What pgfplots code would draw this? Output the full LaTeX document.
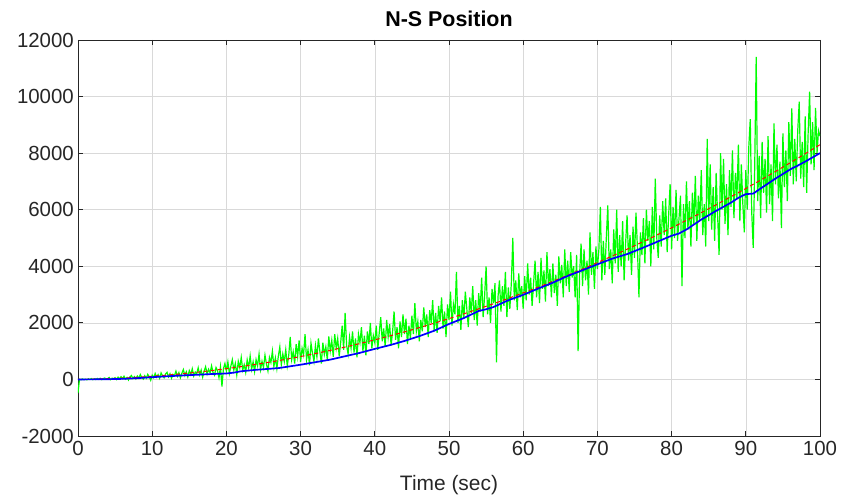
\documentclass[border=0pt]{standalone}
\usepackage{fontspec}
\setmainfont{Liberation Sans}
\usepackage{pgfplots}
\usepackage{pgfplotstable}
\pgfplotsset{compat=1.18}

\pgfplotstableread{
t y
0 -480
0.2 5
0.4 -12
0.6 18
0.8 -6
1 10
1.2 -15
1.4 22
1.6 0
1.8 30
2 -10
2.2 25
2.4 -5
2.6 35
2.8 2
3 40
3.2 -8
3.4 28
3.6 50
3.8 5
4 30
4.2 70
4.4 -10
4.6 45
4.8 15
5 60
5.2 -5
5.4 80
5.6 20
5.8 95
6 30
6.2 110
6.4 10
6.6 70
6.8 -20
7 90
7.2 140
7.4 30
7.6 100
7.8 20
8 120
8.2 40
8.4 170
8.6 60
8.8 10
9 130
9.2 40
9.4 180
9.6 90
9.8 -30
10 150
10.2 60
10.4 210
10.6 80
10.8 170
11 40
11.2 230
11.4 120
11.6 60
11.8 190
12 250
12.2 90
12.4 200
12.6 40
12.8 180
13 130
13.2 290
13.4 110
13.6 240
13.8 60
14 220
14.2 350
14.4 140
14.6 270
14.8 90
15 310
15.2 170
15.4 380
15.6 120
15.8 260
16 200
16.2 410
16.4 160
16.6 330
16.8 80
17 300
17.2 450
17.4 190
17.6 360
17.8 230
18 480
18.2 240
18.4 150
18.6 420
18.8 310
19 60
19.2 450
19.4 -250
19.6 380
19.8 560
20 300
20.2 620
20.4 210
20.6 470
20.8 700
21 330
21.2 560
21.4 160
21.6 640
21.8 420
22 780
22.2 330
22.4 520
22.6 250
22.8 690
23 410
23.2 830
23.4 360
23.6 620
23.8 280
24 700
24.2 480
24.4 900
24.6 350
24.8 640
25 420
25.2 860
25.4 540
25.6 300
25.8 780
26 600
26.2 1000
26.4 450
26.6 760
26.8 380
27 820
27.2 1150
27.4 520
27.6 900
27.8 630
28 1050
28.2 480
28.4 850
28.6 1500
28.8 700
29 980
29.2 560
29.4 1250
29.6 810
29.8 1380
30 620
30.2 1100
30.4 870
30.6 1600
30.8 700
31 1050
31.2 500
31.4 1280
31.6 930
31.8 640
32 1200
32.2 790
32.4 1450
32.6 980
32.8 560
33 1300
33.2 880
33.4 1150
33.6 690
33.8 1520
34 1010
34.2 1380
34.4 800
34.6 1600
34.8 1100
35 1450
35.2 820
35.4 1300
35.6 1900
35.8 1050
36 2350
36.2 1200
36.4 900
36.6 1500
36.8 1100
37 1700
37.2 950
37.4 1450
37.6 780
37.8 1600
38 1300
38.2 1850
38.4 1000
38.6 1550
38.8 850
39 1700
39.2 1250
39.4 2000
39.6 1100
39.8 1550
40 1300
40.2 1900
40.4 1050
40.6 1650
40.8 2200
41 1350
41.2 1800
41.4 1150
41.6 2100
41.8 1500
42 1950
42.2 1200
42.4 1700
42.6 2400
42.8 1400
43 1850
43.2 1100
43.4 2050
43.6 1500
43.8 2300
44 1600
44.2 2150
44.4 1250
44.6 1900
44.8 1450
45 2250
45.2 1600
45.4 2700
45.6 1700
45.8 2050
46 1350
46.2 2100
46.4 1700
46.6 2550
46.8 1850
47 2300
47.2 1500
47.4 2450
47.6 2000
47.8 2800
48 1700
48.2 2350
48.4 1650
48.6 2600
48.8 2050
49 2900
49.2 1800
49.4 2400
49.6 1500
49.8 2650
50 2100
50.2 3100
50.4 1900
50.6 2650
50.8 2300
51 3800
51.2 2000
51.4 2600
51.6 1750
51.8 2800
52 2150
52.2 3100
52.4 2500
52.6 1850
52.8 2900
53 2350
53.2 3300
53.4 2100
53.6 2800
53.8 1900
54 3050
54.2 2400
54.4 3600
54.6 2200
54.8 2950
55 4000
55.2 2300
55.4 2900
55.6 2000
55.8 3200
56 2700
56.2 3400
56.4 600
56.6 2900
56.8 3500
57 2400
57.2 3300
57.4 2600
57.6 3800
57.8 2200
58 3250
58.2 2500
58.4 3400
58.6 5000
58.8 2800
59 3500
59.2 2450
59.4 3750
59.6 2900
59.8 3300
60 2500
60.2 3650
60.4 2800
60.6 4100
60.8 3000
61 3600
61.2 2600
61.4 3400
61.6 4200
61.8 2900
62 3800
62.2 2700
62.4 4300
62.6 3200
62.8 3850
63 2750
63.2 4500
63.4 3300
63.6 3900
63.8 2900
64 4100
64.2 3050
64.4 3700
64.6 2600
64.8 4350
65 3400
65.2 4050
65.4 2900
65.6 4600
65.8 3300
66 4200
66.2 3100
66.4 4500
66.6 3600
66.8 4000
67 2900
67.2 4400
67.4 1000
67.6 3700
67.8 4800
68 3300
68.2 4600
68.4 3500
68.6 4200
68.8 3000
69 5200
69.2 3700
69.4 4500
69.6 3200
69.8 4700
70 3900
70.2 4600
70.4 6100
70.6 3500
70.8 4900
71 3700
71.2 5000
71.4 6150
71.6 3900
71.8 4600
72 3400
72.2 5300
72.4 4100
72.6 6000
72.8 3800
73 5100
73.2 4000
73.4 5600
73.6 3500
73.8 4800
74 5800
74.2 4200
74.4 5100
74.6 3700
74.8 5400
75 4300
75.2 5900
75.4 4600
75.6 2900
75.8 5200
76 4400
76.2 5700
76.4 4100
76.6 6000
76.8 4900
77 5600
77.2 4000
77.4 6100
77.6 4600
77.8 7100
78 5000
78.2 4300
78.4 5800
78.6 4700
78.8 6300
79 5100
79.2 6400
79.4 4500
79.6 5800
79.8 6900
80 4600
80.2 6100
80.4 5000
80.6 6700
80.8 4900
81 5700
81.2 6500
81.4 3300
81.6 6200
81.8 5000
82 7000
82.2 5300
82.4 6300
82.6 4700
82.8 6600
83 5500
83.2 7200
83.4 4900
83.6 6500
83.8 5600
84 7400
84.2 5100
84.4 6200
84.6 4700
84.8 8500
85 5600
85.2 7600
85.4 5300
85.6 6800
85.8 4900
86 7300
86.2 5800
86.4 4400
86.6 8000
86.8 6000
87 7800
87.2 5500
87.4 6900
87.6 5100
87.8 7400
88 6100
88.2 8100
88.4 5700
88.6 7300
88.8 6400
89 8300
89.2 5600
89.4 7600
89.6 6200
89.8 5200
90 7400
90.2 6000
90.4 8200
90.6 9200
90.8 5900
91 4650
91.2 7500
91.4 11400
91.6 6300
91.8 7900
92 5700
92.2 8400
92.4 6600
92.6 7800
92.8 5900
93 8600
93.2 6200
93.4 7600
93.6 5600
93.8 9050
94 6900
94.2 8300
94.4 6400
94.6 7700
94.8 5350
95 8700
95.2 6800
95.4 8100
95.6 6300
95.8 9100
96 7200
96.2 9580
96.4 6900
96.6 8500
96.8 7000
97 8800
97.2 9820
97.4 7100
97.6 8400
97.8 6800
98 9300
98.2 6600
98.4 8700
98.6 10170
98.8 7600
99 9100
99.2 7400
99.4 9600
99.6 8000
99.8 8800
100 8600
}\meas

\pgfplotstableread{
t y
0 0
2 9
4 25
6 47
8 75
10 110
12 151
14 199
16 253
18 313
20 380
22 453
24 533
26 619
28 711
30 810
32 915
34 1027
36 1145
38 1269
40 1400
42 1537
44 1681
46 1831
48 1987
50 2150
52 2319
54 2495
56 2677
58 2865
60 3060
62 3261
64 3469
66 3683
68 3903
70 4130
72 4363
74 4603
76 4849
78 5101
80 5360
82 5625
84 5897
86 6175
88 6459
90 6750
92 7047
94 7351
96 7661
98 7977
100 8300
}\truth

\pgfplotstableread{
t y
0 0
2 2
4 8
6 20
8 45
10 80
12 110
14 140
16 165
18 190
20 210
21 240
22 290
24 340
26 380
27 400
28 440
30 520
32 610
34 700
35 760
36 820
38 940
40 1080
42 1210
44 1360
46 1530
48 1720
50 1960
52 2170
54 2420
55 2480
56 2560
58 2800
60 2990
62 3210
64 3420
66 3660
68 3860
70 4070
72 4270
74 4430
76 4640
78 4860
80 5080
81 5160
82 5300
84 5650
86 5960
88 6250
89 6420
90 6550
91 6570
92 6750
94 7100
96 7430
97 7560
98 7700
99 7850
100 8000
}\est

\begin{document}
\begin{tikzpicture}
\path[use as bounding box] (-78bp,-64bp) rectangle (768bp,436bp);
\begin{axis}[
  at={(0,0)}, anchor=south west,
  width=742bp, height=396bp, scale only axis,
  xmin=0, xmax=100, ymin=-2000, ymax=12000,
  xtick={0,10,...,100}, ytick={-2000,0,2000,4000,6000,8000,10000,12000},
  scaled y ticks=false,
  /pgf/number format/assume math mode=true,
  yticklabel style={/pgf/number format/fixed, /pgf/number format/1000 sep={}},
  tick label style={font=\fontsize{20.5}{22}\selectfont, color=black!85},
  xticklabel style={inner sep=3bp, yshift=-2bp},
  yticklabel style={inner sep=4bp},
  grid=major, grid style={color=black!15, line width=0.6bp},
  axis line style={color=black!85, line width=0.8bp},
  tick style={color=black!85, line width=0.8bp},
  major tick length=5bp, tick align=inside,
  title={N-S Position},
  title style={font=\fontsize{21.5}{23}\selectfont\bfseries, at={(0.5,1)}, anchor=south, yshift=5bp, inner sep=2bp},
  xlabel={Time (sec)},
  xlabel style={font=\fontsize{21}{23}\selectfont, color=black!85, inner sep=2bp, yshift=-14bp},
]
\addplot[color={rgb,1:red,0;green,1;blue,0}, line width=1.2bp] table[x=t,y=y] {\meas};
\addplot[color=red, line width=1bp, dash pattern=on 4bp off 3bp] table[x=t,y=y] {\truth};
\addplot[color=blue, line width=1.7bp] table[x=t,y=y] {\est};
\end{axis}
\end{tikzpicture}
\end{document}
